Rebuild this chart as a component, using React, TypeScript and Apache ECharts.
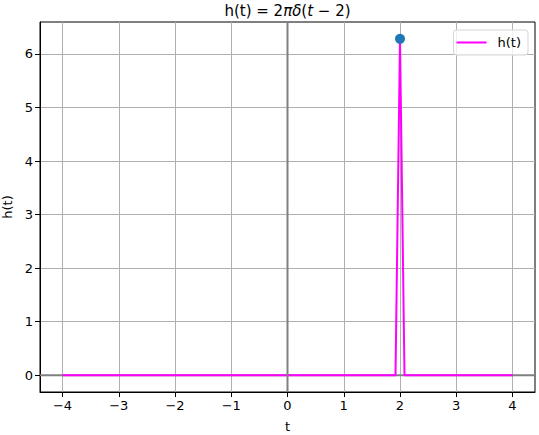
import React, { useEffect, useRef } from "react";
import * as echarts from "echarts";

const tValues = [-4, 1.92, 2, 2.08, 4];
const hValues = [0, 0, 6.283, 0, 0];
const impulseT = [2];
const impulseH = [6.283];
const xTicks = [-4, -3, -2, -1, 0, 1, 2, 3, 4];
const yTicks = [0, 1, 2, 3, 4, 5, 6];
const seriesName = "h(t)";

const FONT = "DejaVu Sans";

export default function App() {
  const ref = useRef<HTMLDivElement>(null);
  useEffect(() => {
    if (!ref.current) return;
    const chart = echarts.init(ref.current, null, { renderer: "svg" });
    const xMin = -4.4, xMax = 4.4;
    const yMin = -0.314, yMax = 6.597;
    chart.setOption({
      animation: false,
      backgroundColor: "#ffffff",
      textStyle: { fontFamily: FONT },
      grid: {
        left: 40, right: 4, top: 22, bottom: 43,
        containLabel: false,
        outerBoundsMode: "none",
        show: true, borderColor: "#000", borderWidth: 1, backgroundColor: "transparent",
      },
      graphic: [
        {
          type: "text",
          x: 287.5,
          y: 11,
          style: {
            text: "{n|h(t) = 2}{i|πδ}{n|(}{i|t}{n| − 2)}",
            align: "center",
            verticalAlign: "middle",
            rich: {
              n: { fontFamily: FONT, fontSize: 15, fill: "#000" },
              i: { fontFamily: FONT, fontSize: 15, fontStyle: "italic", fill: "#000" },
            },
          },
        },
      ],
      legend: {
        right: 11,
        top: 30,
        orient: "vertical",
        data: [{ name: seriesName, icon: "rect" }],
        itemWidth: 30,
        itemHeight: 2,
        itemGap: 4,
        padding: [6, 7, 6, 3],
        backgroundColor: "rgba(255,255,255,0.8)",
        borderColor: "#d6d6d6",
        borderWidth: 1,
        borderRadius: 3,
        textStyle: { fontFamily: FONT, fontSize: 13, color: "#000", padding: [0, 0, 0, 6] },
      },
      xAxis: {
        type: "value",
        min: xMin,
        max: xMax,
        name: "t",
        nameLocation: "middle",
        nameGap: 28,
        nameTextStyle: { fontFamily: FONT, fontSize: 13, color: "#000" },
        axisLine: { show: true, onZero: false, lineStyle: { color: "#000", width: 1 } },
        axisTick: { show: true, length: 5, inside: false, customValues: xTicks, lineStyle: { color: "#000" } },
        axisLabel: {
          customValues: xTicks, margin: 7, fontFamily: FONT, fontSize: 13, color: "#000",
          formatter: (v: number) => (v < 0 ? "\u2212" + Math.abs(v) : String(v)),
        },
        splitLine: { show: true, lineStyle: { color: "#b0b0b0", width: 1 } },
      },
      yAxis: {
        type: "value",
        min: yMin,
        max: yMax,
        name: "h(t)",
        nameLocation: "middle",
        nameGap: 25,
        nameRotate: 90,
        nameTextStyle: { fontFamily: FONT, fontSize: 13, color: "#000" },
        axisLine: { show: true, onZero: false, lineStyle: { color: "#000", width: 1 } },
        axisTick: { show: true, length: 5, inside: false, customValues: yTicks, lineStyle: { color: "#000" } },
        axisLabel: { customValues: yTicks, margin: 7, fontFamily: FONT, fontSize: 13, color: "#000" },
        splitLine: { show: true, lineStyle: { color: "#b0b0b0", width: 1 } },
      },
      series: [
        {
          name: "axh",
          type: "line",
          data: [[xMin, 0], [xMax, 0]],
          symbol: "none",
          lineStyle: { color: "#808080", width: 2 },
          silent: true,
          z: 2,
        },
        {
          name: seriesName,
          type: "line",
          data: tValues.map((t, i) => [t, hValues[i]]),
          symbol: "none",
          itemStyle: { color: "#ff00ff" },
          lineStyle: { color: "#ff00ff", width: 2 },
          z: 3,
        },
        {
          name: "axv",
          type: "line",
          data: [[0, yMin], [0, yMax]],
          symbol: "none",
          lineStyle: { color: "#808080", width: 2 },
          silent: true,
          z: 4,
        },
        {
          name: "impulse",
          type: "scatter",
          data: impulseT.map((t, i) => [t, impulseH[i]]),
          symbol: "circle",
          symbolSize: 10,
          itemStyle: { color: "#1f77b4", opacity: 1 },
          z: 5,
        },
      ],
    });
    return () => chart.dispose();
  }, []);
  return <div ref={ref} style={{ width: 539, height: 435, position: "absolute", left: 0, top: 0 }} />;
}
